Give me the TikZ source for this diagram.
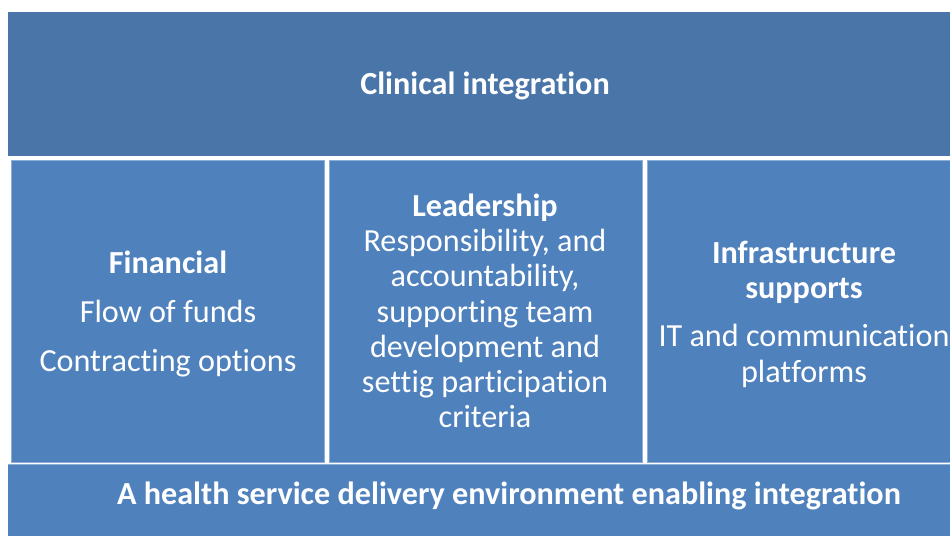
\documentclass[tikz,border=0pt]{standalone}
\usepackage{fontspec}
\setmainfont[Ligatures={NoCommon}]{Carlito}
\definecolor{topblue}{RGB}{73,117,168}
\definecolor{midblue}{RGB}{79,129,189}
\definecolor{edgeblue}{RGB}{140,175,215}
\tikzset{
  txt/.style={text=white, anchor=base, inner sep=0pt, font=\fontsize{32.3}{35}\selectfont},
  btxt/.style={txt, font=\fontsize{32.3}{35}\selectfont\bfseries},
  cell/.style={fill=midblue, draw=edgeblue, line width=0.8bp}
}
\begin{document}
\begin{tikzpicture}[x=1bp,y=-1bp]
\useasboundingbox (0,0) rectangle (950,536);
\fill[white] (0,0) rectangle (950,536);
% boxes
\fill[topblue] (8,12) rectangle (960,156);
\path[cell] (11,160) rectangle (324,462);
\path[cell] (329,160) rectangle (642,462);
\path[cell] (647,160) rectangle (960,462);
\fill[midblue] (8,464) rectangle (1010,560);
\draw[edgeblue, line width=0.8bp] (8,464.4) -- (1010,464.4);
% texts
\node[btxt] (clin) at (485,95) {Clinical integration};
\node[btxt] (fin) at (168,274) {Financial};
\node[txt] (fin1) at (168,323) {Flow of funds};
\node[txt] (fin2) at (168,372) {Contracting options};
\node[btxt] (lead) at (485,217) {Leadership};
\node[txt] (lead1) at (485,252) {Responsibility, and};
\node[txt] (lead2) at (485,287) {accountability,};
\node[txt] (lead3) at (485,322.5) {supporting team};
\node[txt] (lead4) at (485,357.5) {development and};
\node[txt] (lead5) at (485,392.5) {settig participation};
\node[txt] (lead6) at (485,427) {criteria};
\node[btxt] (inf) at (804,264) {Infrastructure};
\node[btxt] (inf1) at (804,299) {supports};
\node[txt] (inf2) at (804,347) {IT and communication};
\node[txt] (inf3) at (804,382) {platforms};
\node[btxt] (env) at (509,504) {A health service delivery environment enabling integration};
\end{tikzpicture}
\end{document}
